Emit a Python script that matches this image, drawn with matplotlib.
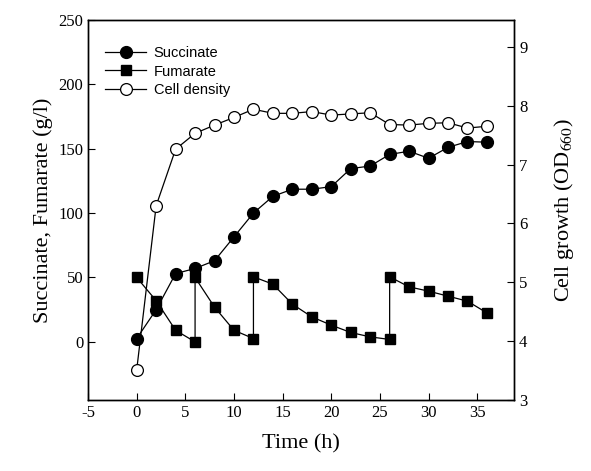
import numpy as np
import matplotlib
matplotlib.use("Agg")
import matplotlib.pyplot as plt

# Data
t_succ = [0, 2, 4, 6, 8, 10, 12, 14, 16, 18, 20, 22, 24, 26, 28, 30, 32, 34, 36]
succinate = [2.6, 25, 53, 57, 63, 81.5, 100, 113, 118.5, 118.5, 120.5, 134.5, 136.5,
             145.5, 148, 142.5, 151, 155.5, 155]

# fumarate was fed at 6, 12 and 26 h (vertical jumps)
t_fum = [0, 2, 4, 6, 6, 8, 10, 12, 12, 14, 16, 18, 20, 22, 24, 26, 26, 28, 30, 32, 34, 36]
fumarate = [50, 32, 9, 0, 50, 27, 9, 2.6, 50.5, 44.8, 29.3, 19.4, 13, 7.3, 3.9, 1.9,
            50.5, 42.7, 39.4, 35.5, 31.6, 22.5]

t_od = [0, 2, 4, 6, 8, 10, 12, 14, 16, 18, 20, 22, 24, 26, 28, 30, 32, 34, 36]
cell_density = [3.51, 6.30, 7.26, 7.53, 7.67, 7.80, 7.94, 7.87, 7.87, 7.90, 7.84, 7.86,
                7.88, 7.68, 7.67, 7.70, 7.71, 7.62, 7.65]

x_ticks = [-5, 0, 5, 10, 15, 20, 25, 30, 35]
left_ticks = [0, 50, 100, 150, 200, 250]
right_ticks = [3, 4, 5, 6, 7, 8, 9]

serif = ["Liberation Serif", "DejaVu Serif"]
sans = ["Liberation Sans", "DejaVu Sans"]
plt.rcParams["mathtext.fontset"] = "stix"
plt.rcParams["axes.unicode_minus"] = False

fig = plt.figure(figsize=(5.91, 4.71), dpi=100)
ax = fig.add_axes([0.149, 0.151, 0.721, 0.807])
ax2 = ax.twinx()

l1, = ax.plot(t_succ, succinate, color="black", lw=0.9, marker="o", ms=8.5,
              mfc="black", mec="black", label="Succinate")
l2, = ax.plot(t_fum, fumarate, color="black", lw=0.9, marker="s", ms=7.2,
              mfc="black", mec="black", label="Fumarate")
l3, = ax2.plot(t_od, cell_density, color="black", lw=0.9, marker="o", ms=8.5,
               mfc="white", mec="black", mew=0.9, label="Cell density")

ax.set_xlim(-5, 38.8)
ax.set_ylim(-45, 250)
ax2.set_ylim(3, 9.46)

ax.set_xticks(x_ticks)
ax.set_yticks(left_ticks)
ax2.set_yticks(right_ticks)

for a in (ax, ax2):
    a.tick_params(direction="in", length=5, width=0.8, labelsize=12)
    for lab in a.get_xticklabels() + a.get_yticklabels():
        lab.set_family(serif)
    for s in a.spines.values():
        s.set_linewidth(1.0)

ax.set_xlabel("Time (h)", family=serif, fontsize=16, labelpad=10)
ax.set_ylabel("Succinate, Fumarate (g/l)", family=serif, fontsize=16, labelpad=4)
ax2.set_ylabel("Cell growth (OD$_{660}$)", family=serif, fontsize=16, labelpad=18)

ax.legend(handles=[l1, l2, l3], loc="upper left", bbox_to_anchor=(0.01, 0.965),
          frameon=False, prop={"family": sans, "size": 10.5}, handlelength=2.8,
          labelspacing=0.3, handletextpad=0.5)

fig.savefig("out.png", dpi=100)
